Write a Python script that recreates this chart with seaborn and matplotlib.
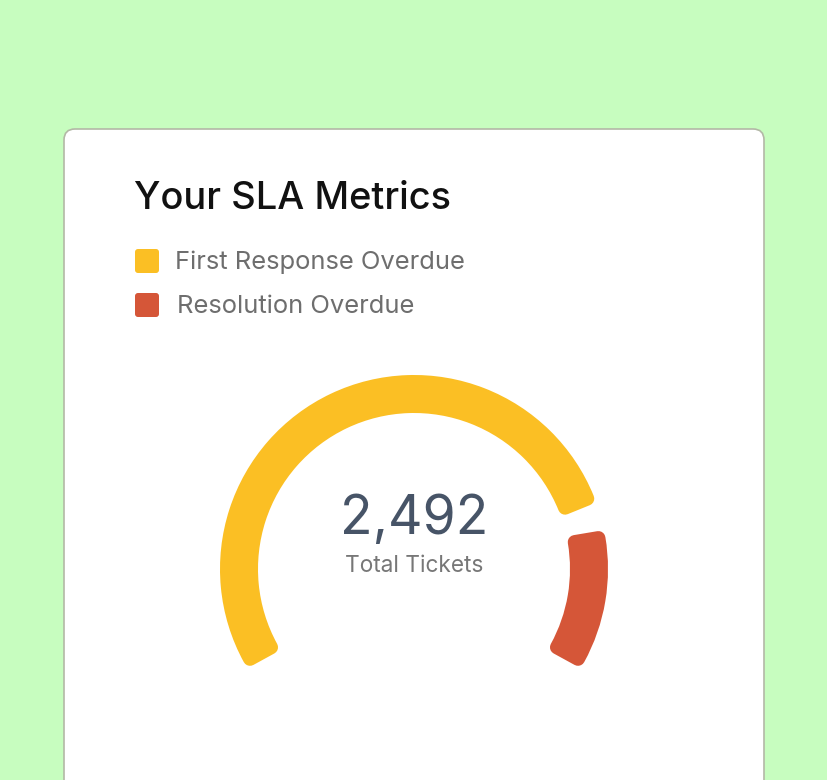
import numpy as np
import matplotlib
matplotlib.use("Agg")
import matplotlib.pyplot as plt
from matplotlib.patches import Wedge, FancyBboxPatch
import seaborn as sns

# chart data
categories = ["First Response Overdue", "Resolution Overdue"]
tickets = [2010, 482]
colors = ["#FBBF24", "#D55638"]
title = "Your SLA Metrics"
center_label = "Total Tickets"

W, H = 828, 780
sns.set_theme(style="white")
plt.rcParams["font.family"] = ["Inter", "DejaVu Sans"]

fig = plt.figure(figsize=(W / 100, H / 100), dpi=100)
fig.patch.set_facecolor("#C7FDBF")
ax = fig.add_axes([0, 0, 1, 1])
ax.set_xlim(0, W)
ax.set_ylim(0, H)
ax.axis("off")


def py(y):
    # pixel row (top-down) -> data y
    return H - y


# card
card = FancyBboxPatch((64, -30), 700, py(129) + 30,
                      boxstyle="round,pad=0,rounding_size=11",
                      facecolor="white", edgecolor="#B3B8A6", lw=1.2)
ax.add_patch(card)

ax.text(134, py(209), title, fontsize=27.4, fontweight="medium",
        color="#111111", va="baseline", ha="left")

# legend
leg_y = [261, 305]
leg_x = [175, 177]
for lab, col, yy, xx in zip(categories, colors, leg_y, leg_x):
    sq = FancyBboxPatch((135, py(yy + 12)), 24, 24,
                        boxstyle="round,pad=0,rounding_size=3",
                        facecolor=col, edgecolor="none")
    ax.add_patch(sq)
    ax.text(xx, py(yy + 8), lab, fontsize=18.4, color="#6E6E6E", va="baseline", ha="left")

# gauge: 240 degree sweep, clockwise from the lower left
cx, cy = 414, py(569)
r_out, r_in = 194, 156
start, sweep = 211.0, 242.0
gap = 8.0
corner = 7.0
total = sum(tickets)
lw_pt = corner * 2 * 72 / 100
r_mid = (r_out + r_in) / 2
d_ang = np.degrees(corner / r_mid)

pos = start
for i, (v, col) in enumerate(zip(tickets, colors)):
    span = sweep * v / total
    a_hi = pos - (gap / 2 if i > 0 else 0)
    a_lo = pos - span + (gap / 2 if i < len(tickets) - 1 else 0)
    pos -= span
    w = Wedge((cx, cy), r_out - corner, a_lo + d_ang, a_hi - d_ang,
              width=(r_out - r_in) - 2 * corner,
              facecolor=col, edgecolor=col, lw=lw_pt, joinstyle="round")
    ax.add_patch(w)

ax.text(414, py(534), f"{total:,}", fontsize=38.5, color="#475467", ha="center", va="baseline")
ax.text(414, py(572), center_label, fontsize=16.3, color="#777777", ha="center", va="baseline")

fig.savefig("out.png", dpi=100, facecolor=fig.get_facecolor())
